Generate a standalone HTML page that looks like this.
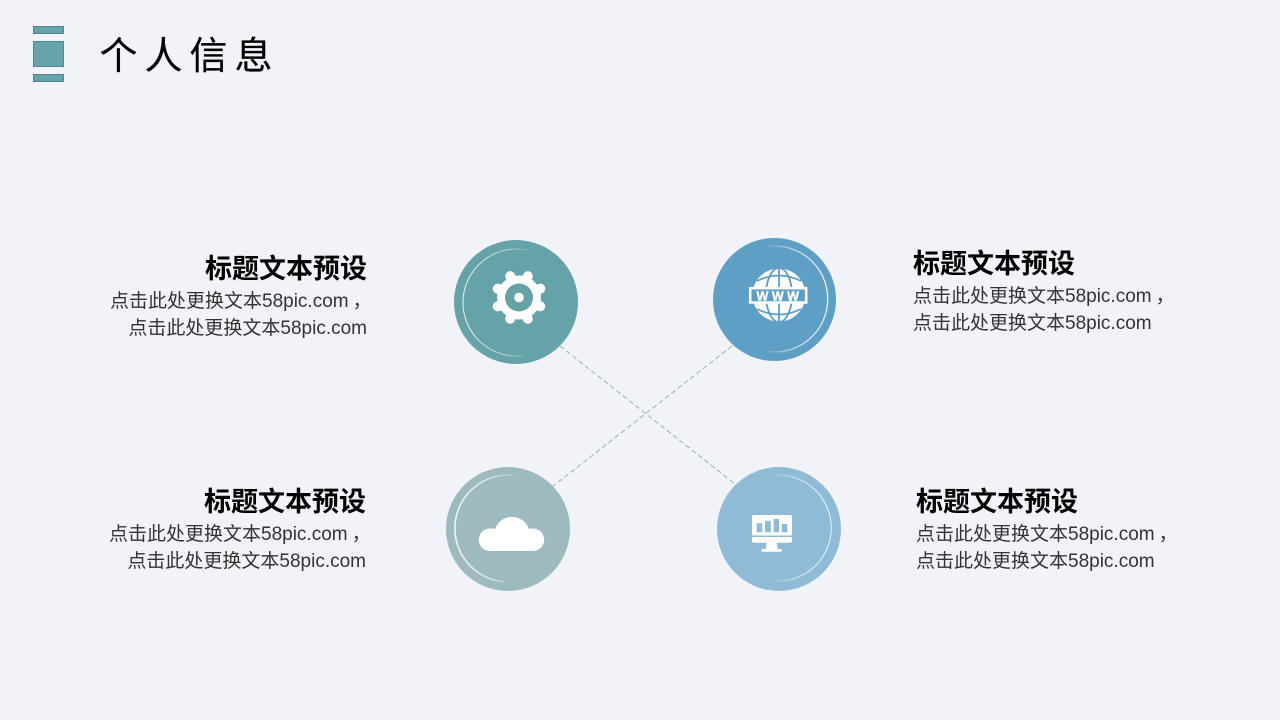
<!DOCTYPE html>
<html lang="zh">
<head>
<meta charset="utf-8">
<style>
html,body{margin:0;padding:0;background:#f1f3f8}
svg{display:block}
text{font-family:"Liberation Sans","Noto Sans CJK SC",sans-serif}
.h{font-size:27px;font-weight:700;fill:#000}
.b{font-size:19px;fill:#333}
.t{font-size:38px;fill:#000;letter-spacing:7px;stroke:#000;stroke-width:.2px}
</style>
</head>
<body>
<svg width="1280" height="720" viewBox="0 0 1280 720" xmlns="http://www.w3.org/2000/svg">
<defs>
<linearGradient id="fl" x1="0" x2="1" y1="0" y2="0"><stop offset="0" stop-color="#fff" stop-opacity=".85"/><stop offset=".6" stop-color="#fff" stop-opacity=".55"/><stop offset="1" stop-color="#fff" stop-opacity="0"/></linearGradient>
<linearGradient id="fr" x1="1" x2="0" y1="0" y2="0"><stop offset="0" stop-color="#fff" stop-opacity=".85"/><stop offset=".6" stop-color="#fff" stop-opacity=".55"/><stop offset="1" stop-color="#fff" stop-opacity="0"/></linearGradient>
</defs>
<rect width="1280" height="720" fill="#f1f3f8"/>

<g fill="#66a3ab" stroke="#4f858d" stroke-width="1">
<rect x="33.5" y="26.5" width="30" height="7"/>
<rect x="33.5" y="41.5" width="30" height="25"/>
<rect x="33.5" y="74.5" width="30" height="7"/>
</g>
<text class="t" x="99.5" y="69">个人信息</text>

<g stroke="#8fb5b5" stroke-width="1" stroke-dasharray="5 3" fill="none">
<line x1="560" y1="346" x2="735" y2="484"/>
<line x1="732" y1="346" x2="552" y2="487"/>
</g>

<!-- gear circle -->
<circle cx="516" cy="302" r="62" fill="#66a3a9"/>
<path d="M535 252.3A53.5 53.5 0 1 0 523 355.6" fill="none" stroke="url(#fl)" stroke-width="1"/>
<g transform="rotate(22.5 519 297.5)" stroke="#fff" stroke-width="10" stroke-linecap="round">
<line x1="519" y1="297.5" x2="519" y2="274.5"/>
<line x1="519" y1="297.5" x2="519" y2="320.5"/>
<line x1="519" y1="297.5" x2="496" y2="297.5"/>
<line x1="519" y1="297.5" x2="542" y2="297.5"/>
<line x1="519" y1="297.5" x2="502.7" y2="281.2"/>
<line x1="519" y1="297.5" x2="535.3" y2="281.2"/>
<line x1="519" y1="297.5" x2="502.7" y2="313.8"/>
<line x1="519" y1="297.5" x2="535.3" y2="313.8"/>
</g>
<circle cx="519" cy="297.5" r="22" fill="#fff"/>
<circle cx="519" cy="297.5" r="14" fill="#66a3a9"/>
<circle cx="519" cy="297.5" r="4.8" fill="#fff"/>

<!-- www circle -->
<circle cx="774.5" cy="299.5" r="61.5" fill="#5f9fc6"/>
<path d="M764 247.1A53 53 0 1 1 764 350.9" fill="none" stroke="url(#fr)" stroke-width="1.3"/>
<circle cx="779" cy="295" r="26.5" fill="#fff"/>
<g fill="none" stroke="#5f9fc6" stroke-width="1.8">
<ellipse cx="779" cy="295" rx="13" ry="27"/>
<line x1="779" y1="268" x2="779" y2="322"/>
<path d="M757 281Q779 270 801 281"/>
<path d="M757 309Q779 320 801 309"/>
</g>
<rect x="750.2" y="288.2" width="56" height="14.3" fill="#5f9fc6" stroke="#fff" stroke-width="2.5"/>
<text x="779.5" y="300.3" text-anchor="middle" font-size="12.5" font-weight="700" fill="#fff" stroke="#fff" stroke-width=".4" letter-spacing="3.5">WWW</text>

<!-- cloud circle -->
<circle cx="508" cy="529" r="62" fill="#9dbabf"/>
<path d="M518 475.85A53.5 53.5 0 1 0 504 581.8" fill="none" stroke="url(#fl)" stroke-width="1.6"/>
<path d="M490 551A11.25 11.25 0 0 1 490 528.5Q492.8 528.2 495 529A18 18 0 0 1 529 529Q531 528.2 533 528.5A11.25 11.25 0 0 1 533 551Z" fill="#fff"/>

<!-- monitor circle -->
<circle cx="779" cy="529" r="62" fill="#90bbd6"/>
<path d="M768 476A53 53 0 1 1 768 580" fill="none" stroke="url(#fr)" stroke-width="1"/>
<rect x="752" y="515" width="40" height="27.7" rx="2" fill="#fff"/>
<rect x="752" y="535.5" width="40" height="1.5" fill="#90bbd6"/>
<path d="M766.7 542.5H776.7L777.7 549H781.7V551.7H761.7V549H765.7Z" fill="#fff"/>
<g fill="#90bbd6">
<rect x="756.7" y="523.3" width="5.6" height="9" rx=".6"/>
<rect x="765" y="520.7" width="5.8" height="11.6" rx=".6"/>
<rect x="773.7" y="518.7" width="5.4" height="13.6" rx=".6"/>
<rect x="781.7" y="524" width="5.6" height="8.3" rx=".6"/>
</g>

<!-- text -->
<text class="h" x="367" y="278" text-anchor="end">标题文本预设</text>
<text class="b" x="110" y="307">点击此处更换文本58pic.com<tspan dx="4">，</tspan></text>
<text class="b" x="367" y="334" text-anchor="end">点击此处更换文本58pic.com</text>

<text class="h" x="913" y="273">标题文本预设</text>
<text class="b" x="913" y="302">点击此处更换文本58pic.com<tspan dx="4">，</tspan></text>
<text class="b" x="913" y="329">点击此处更换文本58pic.com</text>

<text class="h" x="366" y="511" text-anchor="end">标题文本预设</text>
<text class="b" x="109" y="540">点击此处更换文本58pic.com<tspan dx="4">，</tspan></text>
<text class="b" x="366" y="567" text-anchor="end">点击此处更换文本58pic.com</text>

<text class="h" x="916" y="511">标题文本预设</text>
<text class="b" x="916" y="540">点击此处更换文本58pic.com<tspan dx="4">，</tspan></text>
<text class="b" x="916" y="567">点击此处更换文本58pic.com</text>
</svg>
</body>
</html>
